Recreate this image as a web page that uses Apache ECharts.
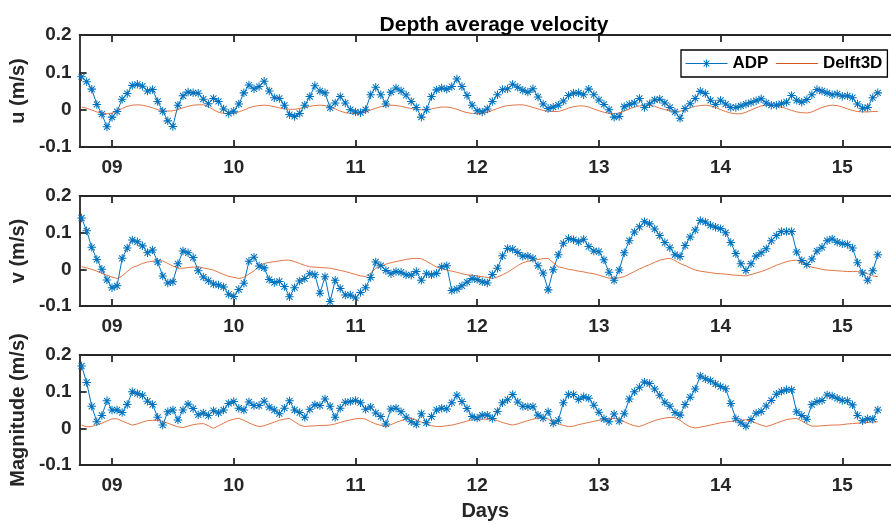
<!DOCTYPE html>
<html>
<head>
<meta charset="utf-8">
<script src="https://cdn.jsdelivr.net/npm/echarts@6/dist/echarts.min.js"></script>
<style>
  html, body { margin: 0; padding: 0; background: #fff; }
  #chart { width: 891px; height: 525px; }
</style>
</head>
<body>
<div id="chart"></div>
<script>
// ---- Data (hourly samples starting at day 8.75) ----
const START_DAY = 8.75;          // first sample (day of month)
const SAMPLES_PER_DAY = 24;      // hourly sampling

const tickDays = [9, 10, 11, 12, 13, 14, 15];
const tickLabels = ['09', '10', '11', '12', '13', '14', '15'];
const yTicks = [-0.1, 0, 0.1, 0.2];

const adpU = [
  0.088, 0.075, 0.055, 0.014, -0.012, -0.046, -0.02, -0.005, 0.028, 0.043,
  0.065, 0.068, 0.063, 0.05, 0.054, 0.022, -0.004, -0.03, -0.045, 0.012,
  0.037, 0.047, 0.045, 0.044, 0.028, 0.016, 0.03, 0.022, 0.002, -0.01,
  -0.004, 0.015, 0.045, 0.066, 0.056, 0.062, 0.076, 0.05, 0.032, 0.03,
  0.012, -0.013, -0.018, -0.01, 0.012, 0.035, 0.064, 0.05, 0.045, 0.005,
  0.018, 0.035, 0.018, 0, -0.006, -0.008, 0, 0.04, 0.06, 0.04,
  0.015, 0.047, 0.058, 0.05, 0.039, 0.022, 0.006, -0.02, 0, 0.035,
  0.053, 0.058, 0.055, 0.062, 0.082, 0.062, 0.038, 0.012, -0.003, -0.006,
  0.002, 0.022, 0.04, 0.054, 0.056, 0.068, 0.06, 0.052, 0.047, 0.056,
  0.034, 0.015, 0.003, 0.007, 0.012, 0.023, 0.038, 0.044, 0.045, 0.04,
  0.055, 0.04, 0.026, 0.014, 0, -0.02, -0.018, 0.008, 0.014, 0.018,
  0.03, 0.006, 0.016, 0.026, 0.028, 0.018, 0.006, -0.006, -0.023, 0.003,
  0.016, 0.03, 0.049, 0.043, 0.025, 0.014, 0.025, 0.015, 0.006, 0.006,
  0.01, 0.015, 0.019, 0.024, 0.029, 0.018, 0.012, 0.012, 0.016, 0.02,
  0.038, 0.025, 0.02, 0.027, 0.04, 0.054, 0.05, 0.045, 0.04, 0.042,
  0.036, 0.037, 0.032, 0.015, 0.004, 0.006, 0.032, 0.045
];
const delftU = [
  0.007, 0.004, -0.001, -0.006, -0.009, -0.011, -0.009, -0.004, 0.003, 0.009,
  0.012, 0.013, 0.012, 0.009, 0.005, 0, -0.003, -0.004, -0.003, 0,
  0.005, 0.009, 0.012, 0.013, 0.013, 0.008, 0, -0.007, -0.010, -0.011,
  -0.010, -0.006, -0.001, 0.005, 0.009, 0.011, 0.012, 0.011, 0.008, 0.005,
  0.002, 0.001, 0.001, 0.003, 0.006, 0.009, 0.011, 0.012, 0.011, 0.007,
  0.002, -0.004, -0.008, -0.010, -0.011, -0.010, -0.006, -0.001, 0.004, 0.008,
  0.011, 0.012, 0.011, 0.009, 0.006, 0.003, 0.001, 0, 0, 0.002,
  0.005, 0.007, 0.007, 0.005, 0.001, -0.004, -0.008, -0.010, -0.011, -0.010,
  -0.007, -0.002, 0.003, 0.008, 0.011, 0.012, 0.013, 0.013, 0.010, 0.006,
  0.002, -0.002, -0.004, -0.005, -0.005, -0.001, 0.004, 0.008, 0.010, 0.010,
  0.007, 0.002, -0.003, -0.007, -0.010, -0.011, -0.009, -0.004, 0.002, 0.007,
  0.010, 0.012, 0.012, 0.009, 0.004, 0, -0.003, -0.005, -0.004, 0,
  0.005, 0.009, 0.011, 0.012, 0.010, 0.006, 0, -0.005, -0.009, -0.011,
  -0.011, -0.007, -0.001, 0.005, 0.010, 0.012, 0.012, 0.010, 0.007, 0.003,
  -0.002, -0.006, -0.008, -0.009, -0.006, 0, 0.006, 0.010, 0.012, 0.011,
  0.007, 0.002, -0.002, -0.005, -0.006, -0.006, -0.005, -0.005
];
const adpV = [
  0.14, 0.105, 0.06, 0.027, 0, -0.029, -0.05, -0.045, 0.03, 0.058,
  0.08, 0.075, 0.064, 0.045, 0.053, 0.02, -0.018, -0.037, -0.034, 0.015,
  0.05, 0.045, 0.032, -0.004, -0.021, -0.031, -0.04, -0.043, -0.048, -0.068,
  -0.074, -0.055, -0.038, 0.022, 0.033, 0.009, 0.004, -0.028, -0.036, -0.033,
  -0.047, -0.075, -0.05, -0.032, -0.025, -0.012, -0.015, -0.065, -0.02, -0.088,
  -0.03, -0.052, -0.07, -0.07, -0.078, -0.063, -0.05, -0.022, 0.02, 0.01,
  -0.003, -0.012, -0.006, -0.008, -0.015, -0.016, -0.006, -0.03, -0.012, -0.015,
  -0.011, 0.007, 0.01, -0.058, -0.054, -0.045, -0.035, -0.025, -0.028, -0.034,
  -0.037, -0.014, 0.003, 0.037, 0.057, 0.055, 0.046, 0.036, 0.036, 0.03,
  0.01, -0.01, -0.056, -0.001, 0.04, 0.071, 0.084, 0.081, 0.075, 0.082,
  0.062, 0.05, 0.048, 0.026, -0.008, -0.03, -0.002, 0.045, 0.078, 0.102,
  0.116, 0.13, 0.124, 0.11, 0.092, 0.073, 0.059, 0.04, 0.035, 0.065,
  0.088, 0.107, 0.133, 0.129, 0.12, 0.115, 0.111, 0.1, 0.073, 0.043,
  0.015, -0.003, 0.015, 0.036, 0.045, 0.056, 0.078, 0.092, 0.103, 0.103,
  0.103, 0.047, 0.024, 0.013, 0.028, 0.05, 0.06, 0.078, 0.083, 0.074,
  0.07, 0.068, 0.058, 0.018, -0.01, -0.03, -0.004, 0.04
];
const delftV = [
  0.007, 0.004, 0, -0.005, -0.011, -0.016, -0.021, -0.025, -0.018, -0.006,
  0.005, 0.01, 0.016, 0.02, 0.022, 0.024, 0.023, 0.016, 0.009, 0.003,
  0.003, 0.005, 0.006, 0.007, 0.004, 0.001, -0.002, -0.008, -0.014, -0.019,
  -0.022, -0.025, -0.022, -0.013, -0.004, 0.008, 0.016, 0.019, 0.021, 0.023,
  0.025, 0.025, 0.021, 0.016, 0.011, 0.007, 0.006, 0.005, 0.004, 0.003,
  0, -0.003, -0.006, -0.01, -0.014, -0.018, -0.02, -0.01, 0.003, 0.009,
  0.014, 0.018, 0.021, 0.024, 0.027, 0.029, 0.03, 0.029, 0.022, 0.014,
  0.006, 0.003, -0.002, -0.005, -0.008, -0.012, -0.015, -0.016, -0.018, -0.02,
  -0.022, -0.025, -0.021, -0.015, -0.008, 0.001, 0.01, 0.018, 0.022, 0.025,
  0.027, 0.029, 0.03, 0.018, 0.007, 0.004, 0, -0.002, -0.005, -0.007,
  -0.01, -0.012, -0.016, -0.02, -0.024, -0.025, -0.023, -0.02, -0.013, -0.006,
  0.001, 0.007, 0.013, 0.019, 0.025, 0.028, 0.03, 0.024, 0.016, 0.01,
  0.004, -0.002, -0.005, -0.007, -0.009, -0.011, -0.012, -0.013, -0.015, -0.016,
  -0.017, -0.018, -0.014, -0.01, -0.006, -0.001, 0.005, 0.011, 0.016, 0.021,
  0.024, 0.025, 0.019, 0.011, 0.006, 0.003, 0, -0.002, -0.003, -0.004,
  -0.005, -0.006, -0.006, -0.006, -0.008, -0.012, -0.018, -0.02
];
const adpMag = [
  0.17, 0.125, 0.06, 0.018, 0.035, 0.075, 0.05, 0.05, 0.043, 0.065,
  0.1, 0.095, 0.09, 0.074, 0.065, 0.03, 0.009, 0.045, 0.05, 0.023,
  0.05, 0.066, 0.054, 0.037, 0.042, 0.035, 0.048, 0.042, 0.05, 0.068,
  0.073, 0.055, 0.05, 0.072, 0.062, 0.062, 0.074, 0.058, 0.05, 0.04,
  0.055, 0.075, 0.05, 0.043, 0.03, 0.052, 0.064, 0.062, 0.08, 0.06,
  0.03, 0.055, 0.071, 0.073, 0.076, 0.07, 0.052, 0.058, 0.042, 0.032,
  0.012, 0.053, 0.055, 0.045, 0.03, 0.018, 0.011, 0.04, 0.015, 0.032,
  0.05, 0.055, 0.053, 0.07, 0.09, 0.073, 0.054, 0.032, 0.028, 0.036,
  0.036, 0.027, 0.046, 0.07, 0.078, 0.092, 0.072, 0.06, 0.059, 0.059,
  0.036, 0.028, 0.045, 0.014, 0.022, 0.07, 0.092, 0.092, 0.079, 0.086,
  0.082, 0.063, 0.044, 0.026, 0.018, 0.039, 0.02, 0.04, 0.08, 0.1,
  0.112, 0.126, 0.122, 0.107, 0.09, 0.071, 0.06, 0.043, 0.036, 0.065,
  0.085, 0.107, 0.143, 0.135, 0.13, 0.121, 0.114, 0.108, 0.068, 0.026,
  0.015, 0.006, 0.024, 0.041, 0.046, 0.061, 0.076, 0.093, 0.101, 0.105,
  0.105, 0.045, 0.035, 0.025, 0.065, 0.073, 0.076, 0.091, 0.088, 0.082,
  0.076, 0.075, 0.064, 0.035, 0.021, 0.026, 0.025, 0.05
];
const delftMag = [
  0.009, 0.004, 0.005, 0.01, 0.014, 0.02, 0.026, 0.026, 0.02, 0.014,
  0.009, 0.012, 0.017, 0.021, 0.022, 0.022, 0.019, 0.014, 0.009, 0.004,
  0.002, 0.006, 0.01, 0.012, 0.013, 0.007, 0, 0.007, 0.014, 0.021,
  0.025, 0.027, 0.022, 0.015, 0.009, 0.005, 0.007, 0.012, 0.017, 0.022,
  0.025, 0.027, 0.018, 0.009, 0.005, 0.006, 0.007, 0.008, 0.008, 0.009,
  0.012, 0.016, 0.02, 0.023, 0.026, 0.027, 0.025, 0.018, 0.012, 0.008,
  0.005, 0.01, 0.016, 0.021, 0.025, 0.027, 0.023, 0.017, 0.012, 0.007,
  0.005, 0.005, 0.007, 0.009, 0.012, 0.016, 0.02, 0.023, 0.024, 0.025,
  0.025, 0.025, 0.021, 0.016, 0.012, 0.009, 0.012, 0.017, 0.021, 0.025,
  0.028, 0.029, 0.025, 0.018, 0.012, 0.008, 0.005, 0.006, 0.01, 0.013,
  0.016, 0.019, 0.022, 0.024, 0.026, 0.027, 0.025, 0.018, 0.012, 0.007,
  0.005, 0.01, 0.016, 0.021, 0.025, 0.028, 0.03, 0.029, 0.022, 0.012,
  0.004, 0.001, 0.003, 0.006, 0.009, 0.012, 0.015, 0.017, 0.019, 0.021,
  0.022, 0.023, 0.02, 0.014, 0.009, 0.005, 0.009, 0.014, 0.019, 0.024,
  0.026, 0.027, 0.02, 0.012, 0.006, 0.006, 0.007, 0.008, 0.009, 0.009,
  0.01, 0.012, 0.013, 0.014, 0.015, 0.016, 0.017, 0.018
];

const panelNames = ['u (m/s)', 'v (m/s)', 'Magnitude (m/s)'];
const adpSeries = [adpU, adpV, adpMag];
const delftSeries = [delftU, delftV, delftMag];

// ---- Styling / layout ----
const FONT = '"Liberation Sans", Arial, Helvetica, sans-serif';
const AXIS = '#262626';
const BLUE = '#0072BD';
const RED = '#D95319';
const X_MIN = 8.734;
const X_MAX = 15.4;
const grids = [
  { left: 78, top: 35, height: 112 },
  { left: 78, top: 196, height: 110 },
  { left: 78, top: 355, height: 110 }
];
const STAR = 'path://M8.8 0H11.2V20H8.8Z M0 8.8H20V11.2H0Z ' +
  'M2.05 3.75L3.75 2.05L17.95 16.25L16.25 17.95Z ' +
  'M16.25 2.05L17.95 3.75L3.75 17.95L2.05 16.25Z';

const times = adpU.map((_, i) => START_DAY + i / SAMPLES_PER_DAY);
const pairs = arr => arr.map((v, i) => [times[i], v]);

const lineSt = { color: AXIS, width: 1.8 };
const labelText = { fontFamily: FONT, fontWeight: 'bold', fontSize: 19, color: '#262626' };

const option = {
  animation: false,
  backgroundColor: '#fff',
  title: {
    text: 'Depth average velocity',
    left: 489, top: 10, textAlign: 'center',
    textStyle: { fontFamily: FONT, fontWeight: 'bold', fontSize: 21, color: '#000' }
  },
  legend: {
    left: 681, top: 50,
    data: [
      { name: 'ADP', lineStyle: { color: BLUE, width: 1 } },
      { name: 'Delft3D', itemStyle: { opacity: 0 }, lineStyle: { color: RED, width: 1 } }
    ],
    itemWidth: 42, itemHeight: 10, itemGap: 7,
    padding: [5, 5, 5, 4],
    borderColor: '#000', borderWidth: 1.3, backgroundColor: '#fff',
    textStyle: { fontFamily: FONT, fontWeight: 'bold', fontSize: 17, color: '#000' }
  },
  grid: grids.map(g => ({ left: g.left, top: g.top, height: g.height, right: 891 - (78 + (X_MAX - X_MIN) * 124) })),
  xAxis: [],
  yAxis: [],
  series: []
};

grids.forEach((g, k) => {
  option.xAxis.push({
    gridIndex: k, type: 'value', position: 'bottom', min: X_MIN, max: X_MAX,
    axisLine: { show: true, onZero: false, lineStyle: lineSt },
    axisTick: { show: true, inside: true, length: 7, customValues: tickDays, lineStyle: lineSt },
    axisLabel: Object.assign({
      show: true, margin: 11, customValues: tickDays,
      formatter: v => tickLabels[tickDays.indexOf(Math.round(v))]
    }, labelText),
    splitLine: { show: false },
    name: k === 2 ? 'Days' : '',
    nameLocation: 'middle', nameGap: 36,
    nameTextStyle: { fontFamily: FONT, fontWeight: 'bold', fontSize: 20, color: '#262626' }
  });
  option.xAxis.push({
    gridIndex: k, type: 'value', position: 'top', min: X_MIN, max: X_MAX,
    axisLine: { show: true, onZero: false, lineStyle: lineSt },
    axisTick: { show: true, inside: true, length: 7, customValues: tickDays, lineStyle: lineSt },
    axisLabel: { show: false },
    splitLine: { show: false }
  });
  option.yAxis.push({
    gridIndex: k, type: 'value', min: -0.1, max: 0.2,
    axisLine: { show: true, onZero: false, lineStyle: lineSt },
    axisTick: { show: true, inside: true, length: 7, customValues: yTicks, lineStyle: lineSt },
    axisLabel: Object.assign({
      margin: 8, customValues: yTicks,
      formatter: v => (Math.abs(v) < 1e-9 ? '0' : v.toFixed(1))
    }, labelText),
    splitLine: { show: false },
    name: panelNames[k], nameLocation: 'middle', nameGap: 44,
    nameTextStyle: { fontFamily: FONT, fontWeight: 'bold', fontSize: 20, color: '#262626' }
  });
  option.series.push({
    name: 'ADP', type: 'line', xAxisIndex: 2 * k, yAxisIndex: k,
    data: pairs(adpSeries[k]),
    color: BLUE,
    symbol: STAR, symbolSize: 8.5, showSymbol: true,
    itemStyle: { color: BLUE },
    lineStyle: { color: BLUE, width: 1 },
    emphasis: { disabled: true }
  });
  option.series.push({
    name: 'Delft3D', type: 'line', xAxisIndex: 2 * k, yAxisIndex: k,
    data: pairs(delftSeries[k]),
    color: RED,
    symbol: 'none',
    lineStyle: { color: RED, width: 0.8 },
    emphasis: { disabled: true }
  });
});

const chart = echarts.init(document.getElementById('chart'), null, { renderer: 'canvas' });
chart.setOption(option);
</script>
</body>
</html>
